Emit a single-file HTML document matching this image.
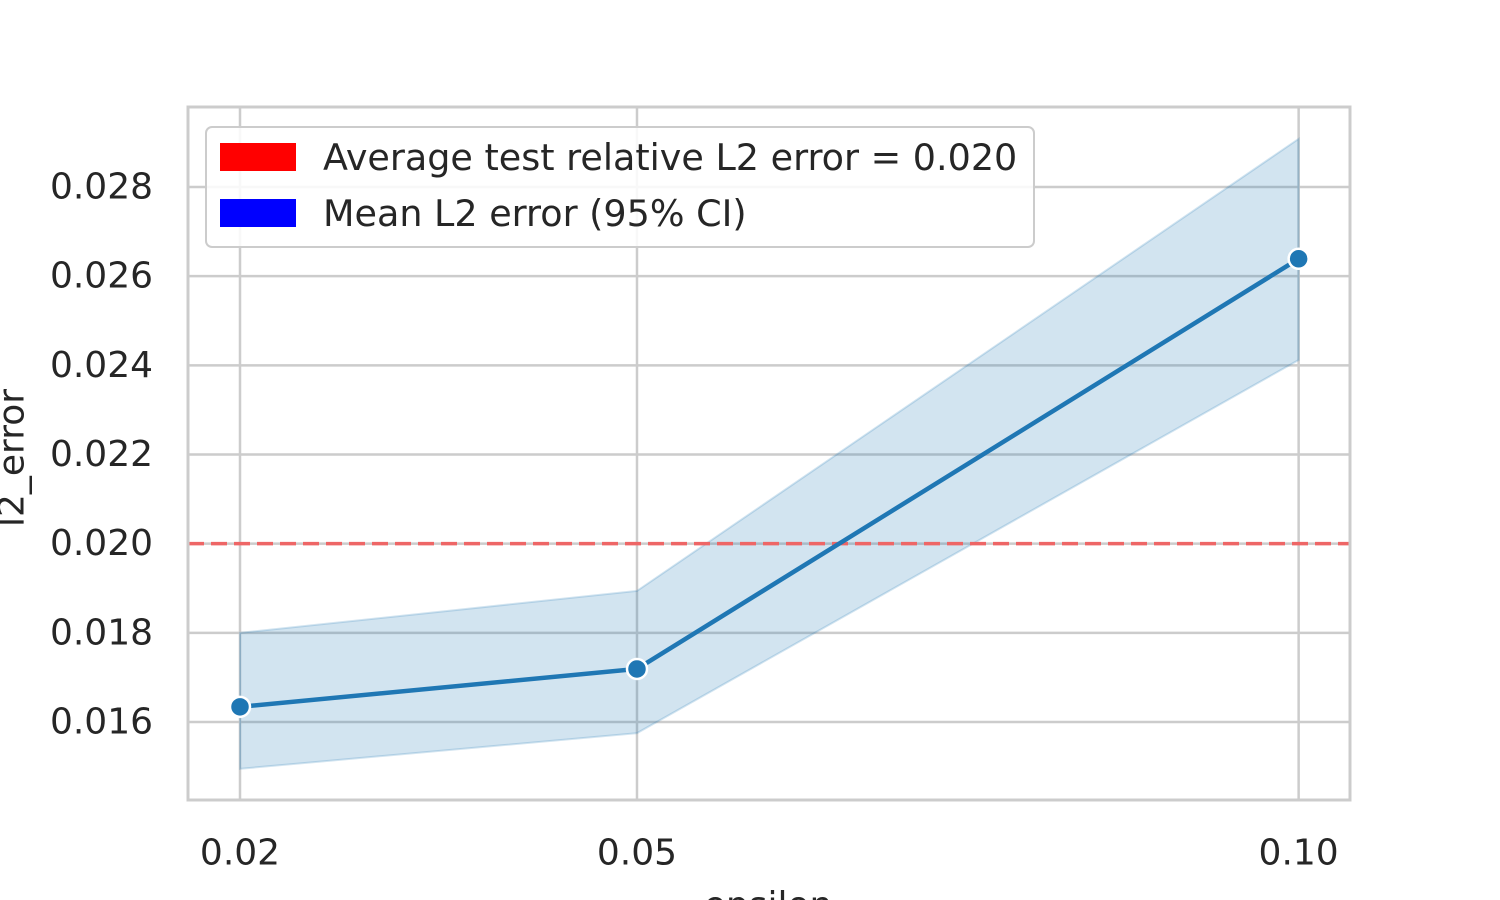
<!DOCTYPE html>
<html><head><meta charset="utf-8"><style>
body{margin:0;background:#fff;}
svg{display:block;font-family:"DejaVu Sans","Liberation Sans",sans-serif;}
</style></head><body>
<svg id="chart" width="1500" height="900">
<g id="grid"></g>
<g id="band-layer"></g>
<line id="ref" stroke="#ee6666" stroke-width="3.5" stroke-dasharray="16,7"/>
<g id="series"></g>
<rect x="188" y="107" width="1162" height="693" fill="none" stroke="#cccccc" stroke-width="3"/>
<g id="ticks"></g>
<text x="12" y="458" transform="rotate(-90 12 458)" text-anchor="middle" dominant-baseline="central" font-size="36" fill="#262626">l2_error</text>
<text x="768" y="917" text-anchor="middle" font-size="36" fill="#262626">epsilon</text>
<g>
<rect x="206" y="127" width="828" height="120" rx="6" fill="#fff" fill-opacity="0.85" stroke="#cccccc" stroke-width="2"/>
<rect x="220" y="143" width="76" height="28" fill="#ff0000"/>
<text x="323" y="170" font-size="36.5" fill="#262626">Average test relative L2 error = 0.020</text>
<rect x="220" y="199" width="76" height="28" fill="#0000ff"/>
<text x="323" y="226" font-size="36.5" fill="#262626">Mean L2 error (95% CI)</text>
</g>
</svg>
<script>
const xCats=[0.02,0.05,0.10];
const xTickLabels=["0.02","0.05","0.10"];
const meanVals=[0.01634,0.01719,0.02639];
const lowerVals=[0.01495,0.01575,0.02412];
const upperVals=[0.0180,0.01894,0.02908];
const yTicks=[0.016,0.018,0.020,0.022,0.024,0.026,0.028];
const refValue=0.020;
const NS="http://www.w3.org/2000/svg";
const X=v=>240+(v-0.02)*13233;
const Y=v=>722-(v-0.016)*44583;
function mk(t,a,p){const e=document.createElementNS(NS,t);for(const k in a)e.setAttribute(k,a[k]);p.appendChild(e);return e;}
const grid=document.getElementById('grid'),ticks=document.getElementById('ticks');
yTicks.forEach(v=>{
 const l=mk('line',{x1:188,x2:1350,y1:Y(v),y2:Y(v),stroke:'#cccccc','stroke-width':2.5},grid);
 
 
 const t=mk('text',{x:153,y:Y(v),'text-anchor':'end','dominant-baseline':'central','font-size':36,fill:'#262626'},ticks);
 t.textContent=v.toFixed(3);
 
 
});
xCats.forEach((v,i)=>{
 const l=mk('line',{x1:X(v),x2:X(v),y1:107,y2:800,stroke:'#cccccc','stroke-width':2.5},grid);
 
 
 const t=mk('text',{x:X(v),y:853,'text-anchor':'middle','dominant-baseline':'central','font-size':36,fill:'#262626'},ticks);
 t.textContent=xTickLabels[i];
 
 
});
let pts=xCats.map((v,i)=>X(v)+','+Y(upperVals[i]));
for(let i=xCats.length-1;i>=0;i--)pts.push(X(xCats[i])+','+Y(lowerVals[i]));
const band=mk('polygon',{points:pts.join(' '),fill:'#1f77b4','fill-opacity':0.2,stroke:'#1f77b4','stroke-opacity':0.2,'stroke-width':2},document.getElementById('band-layer'));


const ref=document.getElementById('ref');
ref.setAttribute('x1',188);ref.setAttribute('x2',1350);ref.setAttribute('y1',Y(refValue));ref.setAttribute('y2',Y(refValue));
const s=document.getElementById('series');
const line=mk('polyline',{points:xCats.map((v,i)=>X(v)+','+Y(meanVals[i])).join(' '),fill:'none',stroke:'#1f77b4','stroke-width':4.5},s);


xCats.forEach((v,i)=>{
 const c=mk('circle',{cx:X(v),cy:Y(meanVals[i]),r:10,fill:'#1f77b4',stroke:'#fff','stroke-width':2.5},s);
 
 
});
</script>
</body></html>
